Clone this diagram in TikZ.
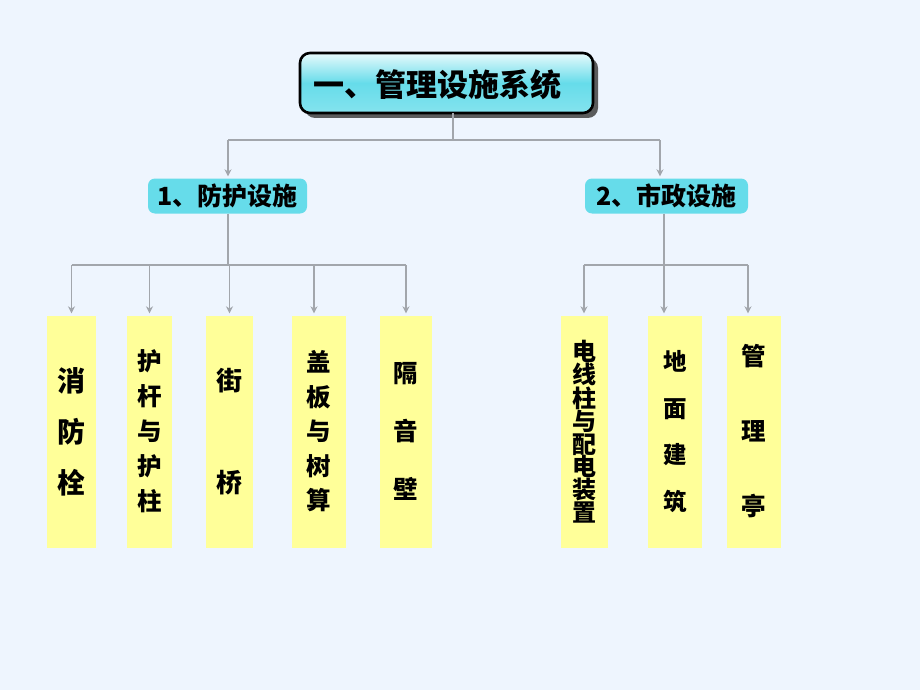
\documentclass[tikz,border=0pt]{standalone}
\usepackage{fontspec}
\newfontfamily\cjk{Noto Sans CJK SC}
\usetikzlibrary{arrows.meta,shadows}
\definecolor{bg}{HTML}{EEF5FE}
\definecolor{cyanbox}{HTML}{66DCEA}
\definecolor{ybox}{HTML}{FFFF99}
\definecolor{conn}{HTML}{A2A6AC}
\tikzset{
  x=1pt,y=1pt,
  titlebox/.style={draw=black, line width=2.6pt, rounded corners=10pt,
    top color=white!85!cyanbox, bottom color=cyanbox!80!white, middle color=cyanbox,
    minimum width=293, minimum height=60, inner sep=0pt,
    drop shadow={shadow xshift=5pt, shadow yshift=-5pt, fill=black!70, opacity=0.9}},
  catbox/.style={fill=cyanbox, rounded corners=7pt, minimum height=35, inner sep=0pt,
    font=\cjk\bfseries\fontsize{25}{28}\selectfont},
  itembox/.style={fill=ybox, inner sep=0pt, align=center, minimum height=232},
  conn/.style={draw=conn, line width=1.4pt},
  arr/.style={conn, -{Stealth[length=7pt,width=7pt]}, shorten >=2pt},
}
\begin{document}
\begin{tikzpicture}
\fill[bg] (0,0) rectangle (920,-690);
\useasboundingbox (0,0) rectangle (920,-690);

% title
\node[titlebox] (t) at (446.5,-83) {};
\node[font=\cjk\bfseries\fontsize{31}{34}\selectfont, inner sep=0pt] (tt) at (437,-85) {一、管理设施系统};

% category boxes
\node[catbox, minimum width=159] (c1) at (227.5,-196) {1、防护设施};
\node[catbox, minimum width=163] (c2) at (666.5,-196) {2、市政设施};

% items
\node[itembox, minimum width=49, font=\cjk\bfseries\fontsize{28}{51}\selectfont] (i1) at (71.5,-431.5) {消\\防\\栓};
\node[itembox, minimum width=45, font=\cjk\bfseries\fontsize{24.5}{35}\selectfont] (i2) at (149.5,-431.5) {护\\杆\\与\\护\\柱};
\node[itembox, minimum width=47, font=\cjk\bfseries\fontsize{26}{51}\selectfont] (i3) at (229.5,-431.5) {街\\[51pt]桥};
\node[itembox, minimum width=54, font=\cjk\bfseries\fontsize{24.5}{34.5}\selectfont] (i4) at (319,-431.5) {盖\\板\\与\\树\\算};
\node[itembox, minimum width=52, font=\cjk\bfseries\fontsize{24.5}{58}\selectfont] (i5) at (406,-431.5) {隔\\音\\壁};
\node[itembox, minimum width=47, font=\cjk\bfseries\fontsize{24}{22.7}\selectfont] (i6) at (584,-431.5) {电\\线\\柱\\与\\配\\电\\装\\置};
\node[itembox, minimum width=54, font=\cjk\bfseries\fontsize{23.5}{46.7}\selectfont] (i7) at (675,-431.5) {地\\面\\建\\筑};
\node[itembox, minimum width=54, font=\cjk\bfseries\fontsize{24.5}{75}\selectfont] (i8) at (754,-431.5) {管\\理\\亭};

% connector coordinates
\coordinate (ts) at (453,-113);
\coordinate (tj) at (453,-140);
\coordinate (tl) at (228,-140);
\coordinate (tr) at (660,-140);
\coordinate (s1) at (228,-213.5);
\coordinate (j1) at (228,-265);
\coordinate (s2) at (664,-213.5);
\coordinate (j2) at (664,-265);
\coordinate (a4) at (314,-265);
\coordinate (a7) at (664,-265);
\coordinate (a8) at (748,-265);

\draw[conn] (ts) -- (tj);
\draw[conn] (tl) -- (tr);
\draw[arr] (tl) -- (tl |- c1.north);
\draw[arr] (tr) -- (tr |- c2.north);

\draw[conn] (s1) -- (j1);
\draw[conn] (j1 -| i1.north) -- (j1 -| i5.north);
\draw[arr] (j1 -| i1.north) -- (i1.north);
\draw[arr] (j1 -| i2.north) -- (i2.north);
\draw[arr] (j1 -| i3.north) -- (i3.north);
\draw[arr] (a4) -- (a4 |- i4.north);
\draw[arr] (j1 -| i5.north) -- (i5.north);

\draw[conn] (s2) -- (j2);
\draw[conn] (j2 -| i6.north) -- (a8);
\draw[arr] (j2 -| i6.north) -- (i6.north);
\draw[arr] (a7) -- (a7 |- i7.north);
\draw[arr] (a8) -- (a8 |- i8.north);
\end{tikzpicture}
\end{document}
